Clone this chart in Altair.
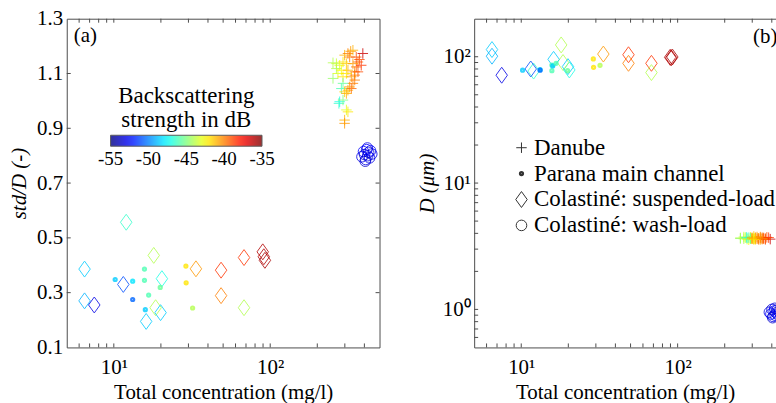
import altair as alt
import pandas as pd

FONT = "Liberation Serif"
FRAME = "#4d4d4d"

TYPES = ["Danube", "Parana main channel", "Colastiné: suspended-load", "Colastiné: wash-load"]

# ---- Colastiné suspended-load (diamonds) ----
sus_conc = [12.0, 6.5, 18.0, 11.5, 20.3, 6.5, 7.5, 18.5, 19.9, 16.1, 33.5, 48.5, 48.5, 68.0, 89.6, 91.0, 92.5, 68.0]
sus_std = [0.557, 0.386, 0.436, 0.330, 0.351, 0.270, 0.255, 0.245, 0.227, 0.195, 0.387, 0.382, 0.289, 0.428, 0.449, 0.431, 0.418, 0.245]
sus_D = [77.0, 114.0, 124.0, 80.0, 78.6, 101.0, 71.4, 90.0, 83.5, 95.4, 105.0, 103.7, 88.7, 88.7, 99.0, 98.0, 99.5, 74.9]
sus_db = [-46.5, -48.5, -44.0, -51.0, -47.0, -49.0, -53.0, -44.0, -48.5, -48.5, -40.5, -38.5, -40.0, -38.5, -36.0, -36.0, -35.8, -44.0]

# ---- Parana main channel (dots) ----
par_conc = [10.2, 13.2, 13.2, 15.7, 15.7, 15.9, 16.7, 19.8, 28.9, 29.0, 31.9]
par_std = [0.348, 0.342, 0.275, 0.386, 0.345, 0.238, 0.291, 0.319, 0.397, 0.336, 0.244]
par_D = [78.2, 79.0, 78.2, 77.6, 86.0, 84.5, 88.7, 77.6, 96.0, 82.5, 85.5]
par_db = [-48.5, -48.0, -50.5, -46.0, -46.0, -48.5, -46.0, -45.5, -42.0, -42.0, -44.0]

# ---- Danube (crosses) ----
dan_conc = [299, 314, 327, 338, 391, 372, 364, 252, 265, 278, 292, 307, 355, 347, 364, 252, 271, 285,
            292, 330, 347, 338, 322, 314, 330, 292, 285, 299, 307, 278, 275, 292, 307, 314, 299, 299,
            322, 355, 338, 314, 382, 265, 307, 347]
dan_std = [1.167, 1.173, 1.181, 1.185, 1.173, 1.151, 1.142, 1.139, 1.136, 1.130, 1.142, 1.136, 1.124,
           1.106, 1.106, 1.082, 1.100, 1.112, 1.088, 1.088, 1.076, 1.064, 1.051, 1.039, 1.045, 1.064,
           1.045, 1.033, 1.027, 0.997, 0.991, 1.003, 0.967, 0.960, 0.930, 0.918, 1.160, 1.160, 1.136,
           1.112, 1.130, 1.118, 1.100, 1.094]
dan_D = [3.62, 3.70, 3.66, 3.58, 3.60, 3.72, 3.64, 3.68, 3.74, 3.60, 3.66, 3.78, 3.62, 3.70, 3.58,
         3.64, 3.70, 3.56, 3.72, 3.66, 3.60, 3.68, 3.74, 3.62, 3.58, 3.66, 3.70, 3.64, 3.60, 3.68,
         3.72, 3.62, 3.66, 3.58, 3.70, 3.64, 3.62, 3.68, 3.74, 3.66, 3.70, 3.62, 3.60, 3.64]
dan_db = [-41.0, -40.0, -40.5, -41.0, -36.5, -39.0, -39.5, -44.0, -43.5, -43.0, -42.0, -41.5, -39.5,
          -40.0, -39.0, -44.5, -43.0, -42.5, -42.0, -40.5, -40.0, -40.0, -40.5, -41.0, -39.5, -45.5,
          -46.0, -41.5, -41.0, -47.0, -46.5, -45.0, -43.0, -42.0, -41.0, -40.5, -40.0, -39.0, -40.5,
          -41.0, -38.5, -44.0, -42.0, -40.0]

# ---- Colastiné wash-load (circles) ----
wash_conc = [386, 395, 401, 408, 414, 420, 426, 432, 438, 446, 405, 418]
wash_std = [0.796, 0.815, 0.804, 0.786, 0.822, 0.800, 0.812, 0.792, 0.818, 0.806, 0.780, 0.828]
wash_D = [0.95, 0.92, 1.00, 0.88, 0.97, 0.90, 0.94, 0.99, 0.91, 0.96, 0.86, 1.02]
wash_db = [-53.0, -52.5, -53.5, -53.0, -52.5, -53.0, -53.5, -53.0, -52.5, -53.0, -53.5, -53.0]

# ---- tick values ----
x_major = [10, 100]
x_minor = [6, 7, 8, 9, 20, 30, 40, 50, 60, 70, 80, 90, 200, 300, 400]
ya_vals = [0.1, 0.3, 0.5, 0.7, 0.9, 1.1, 1.3]
ya_inner = [0.3, 0.5, 0.7, 0.9, 1.1]
yb_major = [1, 10, 100]
yb_minor = [0.6, 0.7, 0.8, 0.9, 2, 3, 4, 5, 6, 7, 8, 9, 20, 30, 40, 50, 60, 70, 80, 90]

cb_values = [-55, -50, -45, -40, -35]
cb_domain = [-55.001, -34.999]
# jet colour map, sampled at equal steps between -55 and -35 dB
jet_colors = ["#000080", "#0000ff", "#0080ff", "#00ffff", "#80ff80", "#ffff00", "#ff8000", "#ff0000", "#800000"]

rows = []
for c, s, d, b in zip(sus_conc, sus_std, sus_D, sus_db):
    rows.append(dict(conc=c, std=s, D=d, dB=b, type=TYPES[2]))
for c, s, d, b in zip(par_conc, par_std, par_D, par_db):
    rows.append(dict(conc=c, std=s, D=d, dB=b, type=TYPES[1]))
for c, s, d, b in zip(dan_conc, dan_std, dan_D, dan_db):
    rows.append(dict(conc=c, std=s, D=d, dB=b, type=TYPES[0]))
for c, s, d, b in zip(wash_conc, wash_std, wash_D, wash_db):
    rows.append(dict(conc=c, std=s, D=d, dB=b, type=TYPES[3]))
df = pd.DataFrame(rows)

W_A, W_B, H = 314, 303, 330
TK = 4

cscale = alt.Scale(domain=cb_domain, range=jet_colors, interpolate="rgb")
shape_scale = alt.Scale(domain=TYPES, range=["M-1,0L1,0M0,-1L0,1", "circle",
                                             "M0,-1L0.72,0L0,1L-0.72,0Z", "circle"])
size_scale = alt.Scale(type="ordinal", domain=TYPES, range=[110, 5, 256, 113])
sw_scale = alt.Scale(type="ordinal", domain=TYPES, range=[1, 3, 1, 1])

x_a = alt.Scale(type="log", domain=[5, 500], nice=False)
x_b = alt.Scale(type="log", domain=[5, 425.6], nice=False)
y_a = alt.Scale(domain=[0.1, 1.3], nice=False, zero=False)
y_b = alt.Scale(type="log", domain=[0.5, 200], nice=False)

AX = dict(labelFont=FONT, titleFont=FONT, labelFontSize=21, titleFontSize=21, titleFontWeight="normal",
          labelColor="black", titleColor="black", grid=False)

x_axis = alt.Axis(values=x_major, labelExpr="datum.value == 10 ? '10¹' : '10²'", ticks=False,
                  domain=True, title="Total concentration (mg/l)", labelPadding=9, titlePadding=4,
                  labelFlush=False, **AX)


def tick_rules(vals, field_ch, scale, side, extent, axis=None):
    d = pd.DataFrame({"v": vals})
    base = alt.Chart(d).mark_rule(color=FRAME, strokeWidth=1)
    if field_ch == "x":
        enc = dict(x=alt.X("v:Q", scale=scale, axis=axis))
        if side == "bottom":
            enc.update(y=alt.value(extent), y2=alt.value(extent - TK))
        else:
            enc.update(y=alt.value(0), y2=alt.value(TK))
    else:
        enc = dict(y=alt.Y("v:Q", scale=scale, axis=axis))
        if side == "left":
            enc.update(x=alt.value(0), x2=alt.value(TK))
        else:
            enc.update(x=alt.value(extent), x2=alt.value(extent - TK))
    return base.encode(**enc)


domain_only = dict(labels=False, ticks=False, domain=True, grid=False, title=None)

# ---------------- Panel (a) ----------------
clegend = alt.Legend(orient="none", legendX=44, legendY=67, direction="horizontal",
                     title=["Backscattering", "strength in dB"], titleFont=FONT, titleFontSize=23,
                     titleFontWeight="normal", titleAnchor="middle", titleLineHeight=24,
                     titlePadding=3, gradientLength=152, gradientThickness=11,
                     gradientStrokeColor="#333333", gradientStrokeWidth=1, values=cb_values,
                     labelExpr="'' + datum.value",
                     labelFont=FONT, labelFontSize=19, labelOffset=4, labelAlign="center",
                     labelOverlap=False, padding=0, labelColor="black", titleColor="black")

pts_a = alt.Chart(df).mark_point(filled=False, opacity=0.8).encode(
    x=alt.X("conc:Q", scale=x_a, axis=x_axis),
    y=alt.Y("std:Q", scale=y_a, axis=alt.Axis(values=ya_vals, format=".1f", ticks=False, domain=True,
                                               title="std/D (-)", titleFontStyle="italic",
                                               labelPadding=4, titlePadding=7, **AX)),
    stroke=alt.Stroke("dB:Q", scale=cscale, legend=clegend),
    shape=alt.Shape("type:N", scale=shape_scale, legend=None),
    size=alt.Size("type:N", scale=size_scale, legend=None),
    strokeWidth=alt.StrokeWidth("type:N", scale=sw_scale, legend=None),
)

lab_a = alt.Chart(pd.DataFrame({"conc": [5.55], "std": [1.236], "t": ["(a)"]})).mark_text(
    align="left", baseline="middle", font=FONT, fontSize=21, color="black").encode(
    x=alt.X("conc:Q", scale=x_a, axis=None), y=alt.Y("std:Q", scale=y_a, axis=None), text="t:N")

panel_a = alt.layer(
    pts_a,
    tick_rules(x_major + x_minor, "x", x_a, "bottom", H),
    tick_rules(x_major + x_minor, "x", x_a, "top", H, axis=alt.Axis(orient="top", **domain_only)),
    tick_rules(ya_inner, "y", y_a, "left", W_A),
    tick_rules(ya_inner, "y", y_a, "right", W_A, axis=alt.Axis(orient="right", **domain_only)),
    lab_a,
).resolve_axis(x="independent", y="independent").properties(width=W_A, height=H)

# ---------------- Panel (b) ----------------
slegend = alt.Legend(orient="none", legendX=36, legendY=118, title=None, labelFont=FONT,
                     labelFontSize=23, labelColor="black", labelLimit=0, symbolStrokeColor="#333333",
                     rowPadding=2, labelOffset=1, padding=0, symbolOpacity=1)

pts_b = alt.Chart(df).mark_point(filled=False, opacity=0.8, clip=True).encode(
    x=alt.X("conc:Q", scale=x_b, axis=x_axis),
    y=alt.Y("D:Q", scale=y_b, axis=alt.Axis(values=yb_major,
                                             labelExpr="datum.value == 1 ? '10⁰' : datum.value == 10 ? '10¹' : '10²'",
                                             ticks=False, domain=True, title="D (μm)",
                                             titleFontStyle="italic", labelPadding=4, titlePadding=5, **AX)),
    stroke=alt.Stroke("dB:Q", scale=cscale, legend=None),
    shape=alt.Shape("type:N", scale=shape_scale, legend=slegend),
    size=alt.Size("type:N", scale=size_scale, legend=slegend),
    strokeWidth=alt.StrokeWidth("type:N", scale=sw_scale, legend=slegend),
)

lab_b = alt.Chart(pd.DataFrame({"conc": [303.7], "D": [142.0], "t": ["(b)"]})).mark_text(
    align="left", baseline="middle", font=FONT, fontSize=21, color="black", clip=True).encode(
    x=alt.X("conc:Q", scale=x_b, axis=None), y=alt.Y("D:Q", scale=y_b, axis=None), text="t:N")

panel_b = alt.layer(
    pts_b,
    tick_rules(x_major + x_minor, "x", x_b, "bottom", H),
    tick_rules(x_major + x_minor, "x", x_b, "top", H, axis=alt.Axis(orient="top", **domain_only)),
    tick_rules(yb_major + yb_minor, "y", y_b, "left", W_B),
    lab_b,
).resolve_axis(x="independent", y="independent").properties(width=W_B, height=H)

chart = alt.hconcat(panel_a, panel_b, spacing=36).resolve_scale(
    stroke="independent", shape="independent", size="independent", strokeWidth="independent",
    x="independent", y="independent",
).resolve_legend(stroke="independent", shape="independent", size="independent",
                 strokeWidth="independent").properties(
    padding={"left": 8, "top": 7, "right": 0, "bottom": 0},
    background="white",
).configure(font=FONT).configure_view(stroke=None).configure_axis(
    domainColor=FRAME, domainWidth=1, **AX
).configure_legend(labelFont=FONT, titleFont=FONT)

chart.save("out.html", embed_options={"renderer": "svg", "actions": False})
